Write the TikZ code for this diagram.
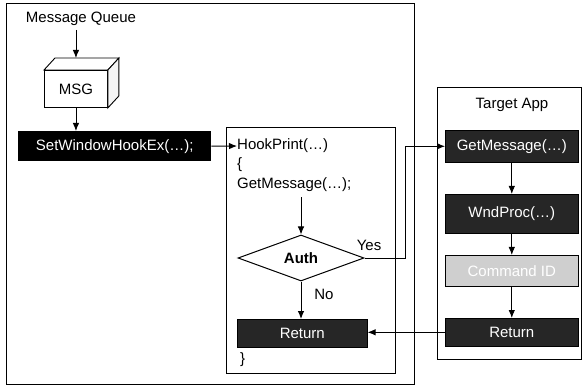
\documentclass[tikz,border=0pt]{standalone}
\usepackage{fontspec}
\setmainfont{Liberation Sans}
\usetikzlibrary{arrows.meta,calc,shapes.geometric}
\definecolor{darkfill}{HTML}{262626}
\definecolor{lightfill}{HTML}{CFCFCF}
\tikzset{
  txt/.style={font=\fontsize{15}{18}\selectfont, inner sep=0pt},
  frame/.style={draw, line width=1pt, anchor=north west, inner sep=0pt},
  procbox/.style={txt, draw=black, line width=0.6pt, fill=darkfill, text=white,
                  anchor=north west, minimum width=133pt},
  arr/.style={-{Latex[length=8pt,width=6.5pt]}, line width=0.9pt},
  plain/.style={line width=0.9pt},
}
\begin{document}
\begin{tikzpicture}[x=1pt,y=-1pt]
\useasboundingbox (0,0) rectangle (583,387);

% containers
\node[frame, minimum width=408pt, minimum height=381pt] (outer) at (6,3) {};
\node[frame, minimum width=169pt, minimum height=246pt] (hook) at (226,127) {};
\node[frame, minimum width=144pt, minimum height=272pt] (target) at (437,87) {};

% message queue and the MSG cube
\node[txt] (mq) at (81,19) {Message Queue};
\node[txt, draw, line width=0.9pt, fill=white, minimum width=63pt, minimum height=37pt,
      anchor=north west] (msg) at (44,70) {MSG};
\draw[plain, fill=white] (msg.north west) -- ++(11,-12) -- ($(msg.north east)+(11,-12)$)
      -- (msg.north east) -- cycle;
\draw[plain, fill=black!4] (msg.north east) -- ++(11,-12) -- ($(msg.south east)+(11,-12)$)
      -- (msg.south east) -- cycle;
\coordinate (msgtop) at ($(msg.north)+(0,-12)$);
\draw[arr] (mq.south -| msg.north) ++(0,4) -- (msgtop);

\node[txt, fill=black, text=white, minimum width=193pt, minimum height=30pt,
      anchor=north west] (swh) at (18,131) {SetWindowHookEx(…);};
\draw[arr] (msg.south) -- (msg.south |- swh.north);

% hook procedure
\node[txt, anchor=west] (hp) at (237,146) {HookPrint(…)};
\node[txt, anchor=west] (ob) at (237,165) {\{};
\node[txt, anchor=west] (gm) at (237,185) {GetMessage(…);};
\draw[arr] (swh.east) -- (hp.west);

\node[txt, diamond, draw, line width=1pt, aspect=2.74, minimum width=126pt,
      minimum height=46pt] (auth) at (301,258) {\textbf{Auth}};
\draw[arr] (gm.south -| auth.north) ++(0,5) -- (auth.north);

\node[procbox, minimum width=130pt, minimum height=28pt] (hret) at (237,319) {Return};
\node[txt] (yes) at (369,245) {Yes};
\node[txt] (no) at (324,294) {No};
\draw[arr] (auth.south) -- (hret.north -| auth.south);
\node[txt, anchor=west] (cb) at (240,360) {\}};

% target application
\node[txt] (tapp) at (512,105) {Target App};
\node[procbox, minimum height=32pt] (tgm) at (445,130) {GetMessage(…)};
\node[procbox, minimum height=39pt] (twp) at (445,194) {WndProc(…)};
\node[procbox, fill=lightfill, minimum height=31pt] (tcmd) at (445,255) {Command ID};
\node[procbox, minimum height=28pt] (tret) at (445,318) {Return};
\draw[arr] (tgm.south) -- (twp.north);
\draw[arr] (twp.south) -- (tcmd.north);
\draw[arr] (tcmd.south) -- (tret.north);

% cross-process connectors
\coordinate (bend) at (405,258);
\draw[arr] (auth.east) -- (auth.east -| bend) |- (tgm.west);
\draw[arr] (tret.west) -- (tret.west -| hret.east);
\end{tikzpicture}
\end{document}
